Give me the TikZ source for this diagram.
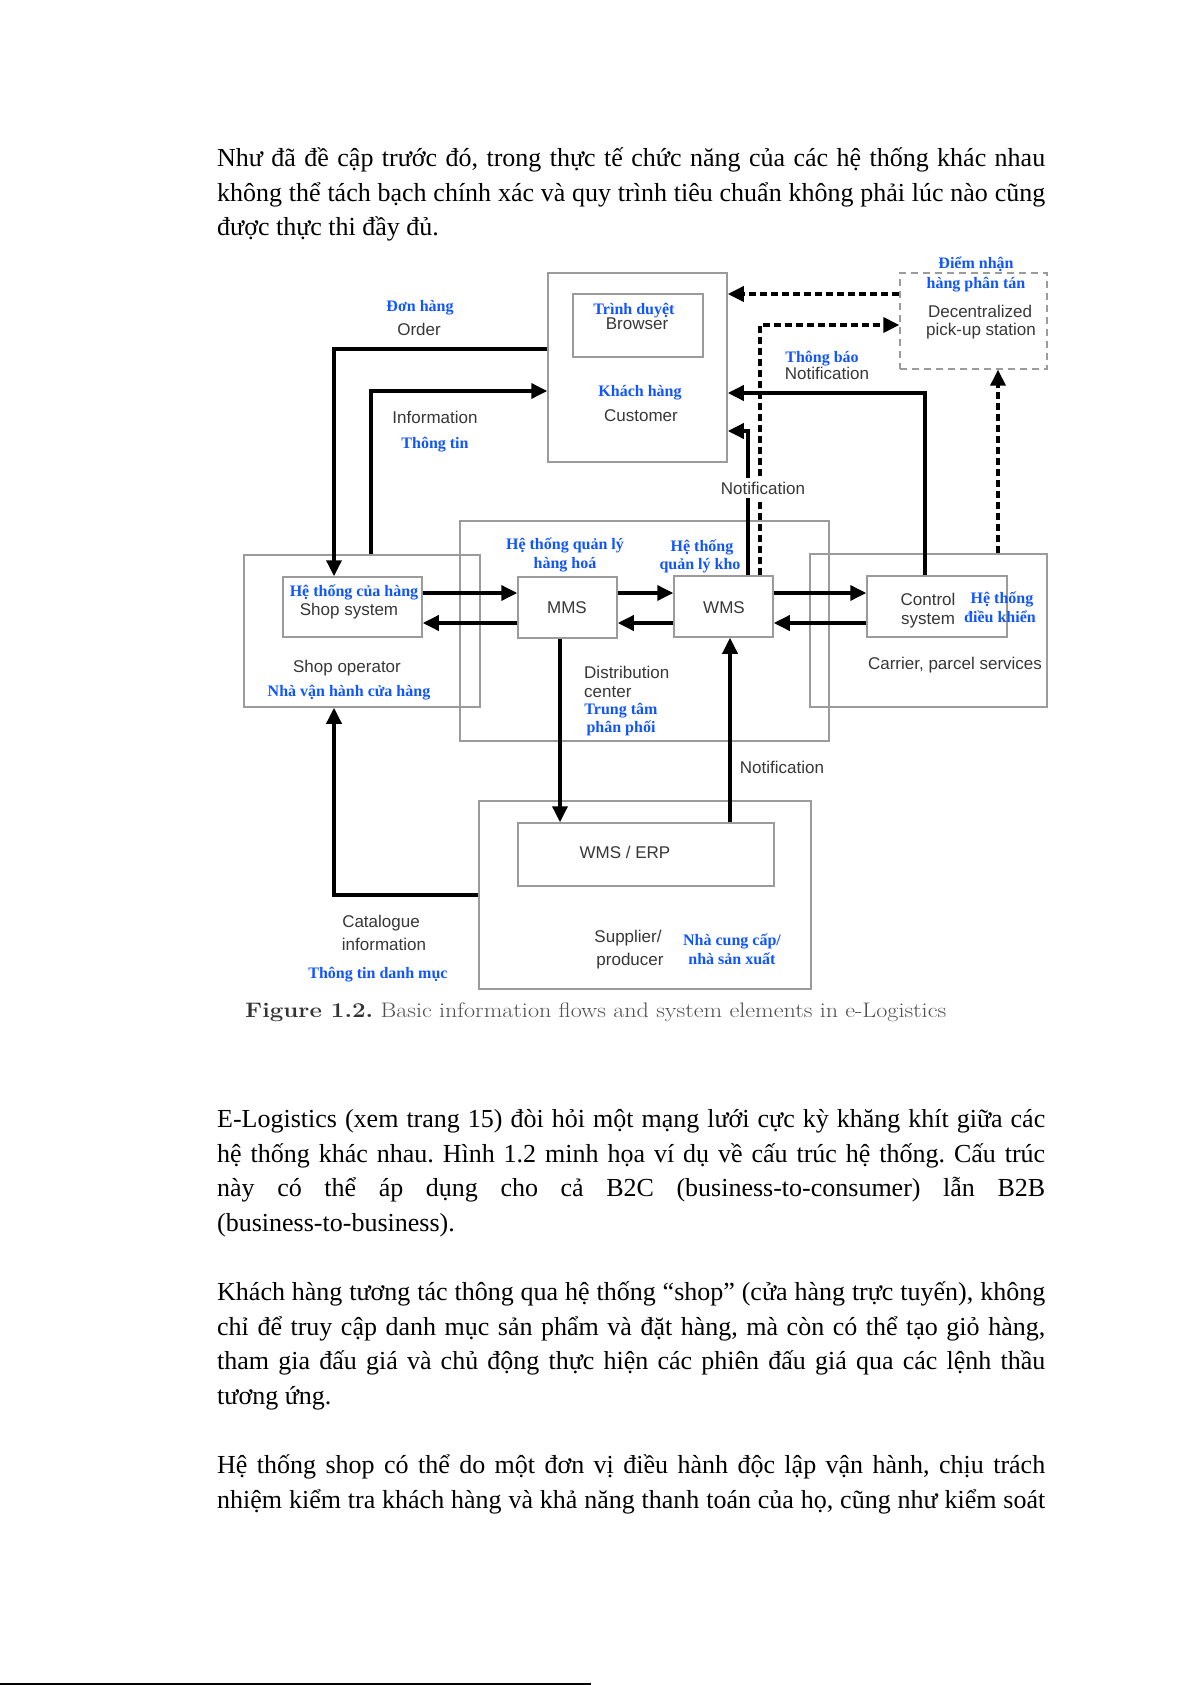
\documentclass[tikz,border=0pt]{standalone}
\usepackage{fontspec}
\usetikzlibrary{arrows.meta}
\newfontfamily\tnr{Liberation Serif}
\newfontfamily\arial{Liberation Sans}
\definecolor{vblue}{RGB}{17,85,255}
\definecolor{txtgray}{RGB}{55,55,55}
\definecolor{boxgray}{RGB}{155,155,155}
\definecolor{capgray}{RGB}{80,80,80}
\tikzset{
  box/.style={draw=boxgray, line width=1.5pt, inner sep=0pt},
  dbox/.style={draw=boxgray, line width=1.4pt, inner sep=0pt, dash pattern=on 7pt off 5pt},
  arr/.style={line width=3.5pt, -{Triangle[length=16pt,width=15pt]}},
  darr/.style={arr, dash pattern=on 7pt off 4pt},
  glab/.style={font=\arial\fontsize{17}{19}\selectfont, text=txtgray, inner sep=0pt, anchor=base, yshift=-6pt},
  blab/.style={font=\tnr\bfseries\fontsize{16}{18}\selectfont, text=vblue, inner sep=0pt, anchor=base, yshift=-6pt},
  body/.style={font=\tnr\fontsize{26}{34.7}\selectfont, inner sep=0pt, anchor=base west},
}
\newcommand{\jl}[1]{\makebox[828pt][s]{#1}}
\frenchspacing
\begin{document}
\begin{tikzpicture}[x=1pt,y=-1pt]
\fill[white] (0,0) rectangle (1191,1685);
\useasboundingbox (0,0) rectangle (1191,1685);

% body text
\node[body] (p1a) at (217,167) {\jl{Như đã đề cập trước đó, trong thực tế chức năng của các hệ thống khác nhau}};
\node[body] (p1b) at (217,202) {\jl{không thể tách bạch chính xác và quy trình tiêu chuẩn không phải lúc nào cũng}};
\node[body] (p1c) at (217,236) {được thực thi đầy đủ.};

\node[body] (p2a) at (217,1127) {\jl{E-Logistics (xem trang 15) đòi hỏi một mạng lưới cực kỳ khăng khít giữa các}};
\node[body] (p2b) at (217,1162) {\jl{hệ thống khác nhau. Hình 1.2 minh họa ví dụ về cấu trúc hệ thống. Cấu trúc}};
\node[body] (p2c) at (217,1196) {\jl{này có thể áp dụng cho cả B2C (business-to-consumer) lẫn B2B}};
\node[body] (p2d) at (217,1231) {(business-to-business).};

\node[body] (p3a) at (217,1300) {\jl{Khách hàng tương tác thông qua hệ thống “shop” (cửa hàng trực tuyến), không}};
\node[body] (p3b) at (217,1335) {\jl{chỉ để truy cập danh mục sản phẩm và đặt hàng, mà còn có thể tạo giỏ hàng,}};
\node[body] (p3c) at (217,1369) {\jl{tham gia đấu giá và chủ động thực hiện các phiên đấu giá qua các lệnh thầu}};
\node[body] (p3d) at (217,1404) {tương ứng.};

\node[body] (p4a) at (217,1473) {\jl{Hệ thống shop có thể do một đơn vị điều hành độc lập vận hành, chịu trách}};
\node[body] (p4b) at (217,1508) {\jl{nhiệm kiểm tra khách hàng và khả năng thanh toán của họ, cũng như kiểm soát}};

% caption
\node[inner sep=0pt, anchor=base west, text=capgray, font=\rmfamily\fontsize{21}{23}\selectfont] (cap) at (245,1017) {\resizebox{701pt}{\height}{\textbf{\color{black!80}Figure 1.2.} Basic information flows and system elements in e-Logistics}};

% boxes
\node[box, minimum width=179pt, minimum height=189pt] (cust) at (637.5,367.5) {};
\node[box, minimum width=130pt, minimum height=63pt] (brow) at (638,325.5) {};
\node[dbox, minimum width=147pt, minimum height=96pt] (pick) at (973.5,321) {};
\node[box, minimum width=236pt, minimum height=152pt] (shopop) at (362,631) {};
\node[box, minimum width=139pt, minimum height=60pt] (shopsys) at (352.5,607) {};
\node[box, minimum width=369pt, minimum height=220pt] (dist) at (644.5,631) {};
\node[box, minimum width=99pt, minimum height=61pt] (mms) at (567.5,607.5) {};
\node[box, minimum width=99pt, minimum height=61pt] (wms) at (723.5,606.5) {};
\node[box, minimum width=237pt, minimum height=153pt] (carrier) at (928.5,630.5) {};
\node[box, minimum width=140pt, minimum height=61pt] (ctrl) at (937,606.5) {};
\node[box, minimum width=332pt, minimum height=188pt] (supp) at (645,895) {};
\node[box, minimum width=256pt, minimum height=63pt] (erp) at (646,854.5) {};

% connectors
\draw[arr] (cust.west |- 0,349) -| (shopsys.north -| 334,0);
\draw[arr] (shopop.north -| 371,0) |- (cust.west |- 0,391);
\draw[arr] (ctrl.north -| 925,0) |- (cust.east |- 0,393);
\draw[arr] (wms.north -| 748,0) |- (cust.east |- 0,431);
\draw[darr] (wms.north -| 760,0) |- (pick.west |- 0,325);
\draw[darr] (pick.west |- 0,294) -- (cust.east |- 0,294);
\draw[darr] (carrier.north -| 998,0) -- (pick.south -| 998,0);
\draw[arr] (shopsys.east |- 0,593) -- (mms.west |- 0,593);
\draw[arr] (mms.west |- 0,623) -- (shopsys.east |- 0,623);
\draw[arr] (mms.east |- 0,593) -- (wms.west |- 0,593);
\draw[arr] (wms.west |- 0,623) -- (mms.east |- 0,623);
\draw[arr] (wms.east |- 0,593) -- (ctrl.west |- 0,593);
\draw[arr] (ctrl.west |- 0,623) -- (wms.east |- 0,623);
\draw[arr] (mms.south -| 560,0) -- (erp.north -| 560,0);
\draw[arr] (erp.north -| 730,0) -- (wms.south -| 730,0);
\draw[arr] (supp.west |- 0,895) -| (shopop.south -| 334,0);

% gray labels
\node[glab] (lorder) at (419,329) {Order};
\node[glab] (linfo) at (435,417) {Information};
\node[glab] (lbrow) at (637,324) {Browser};
\node[glab] (lcust) at (641,415) {Customer};
\node[glab] (ldec) at (980,311) {Decentralized};
\node[glab] (lpick) at (981,329) {pick-up station};
\node[glab] (lnot1) at (827,373) {Notification};
\node[glab, fill=white, inner ysep=4pt, inner xsep=1pt] (lnot2) at (763,488) {Notification};
\node[glab] (lshops) at (349,609) {Shop system};
\node[glab] (lshopo) at (347,666) {Shop operator};
\node[glab] (lmms) at (567,607) {MMS};
\node[glab] (lwms) at (724,607) {WMS};
\node[glab, anchor=base west] (ldist1) at (584,672) {Distribution};
\node[glab, anchor=base west] (ldist2) at (584,691) {center};
\node[glab] (lctrl1) at (928,599) {Control};
\node[glab] (lctrl2) at (928,618) {system};
\node[glab] (lcarr) at (955,663) {Carrier, parcel services};
\node[glab] (lnot3) at (782,767) {Notification};
\node[glab] (lerp) at (625,852) {WMS / ERP};
\node[glab] (lcat1) at (381,921) {Catalogue};
\node[glab] (lcat2) at (384,944) {information};
\node[glab] (lsup1) at (628,936) {Supplier/};
\node[glab] (lsup2) at (630,959) {producer};

% blue labels
\node[blab] (bdon) at (420,306) {Đơn hàng};
\node[blab] (bthong) at (435,442) {Thông tin};
\node[blab] (btrinh) at (634,309) {Trình duyệt};
\node[blab] (bkhach) at (640,390) {Khách hàng};
\node[blab] (bdiem) at (976,263) {Điểm nhận};
\node[blab] (bhang) at (976,283) {hàng phân tán};
\node[blab] (bbao) at (822,356) {Thông báo};
\node[blab] (bhtql) at (565,543) {Hệ thống quản lý};
\node[blab] (bhh) at (565,562) {hàng hoá};
\node[blab] (bhtk) at (702,545) {Hệ thống};
\node[blab] (bqlk) at (700,563) {quản lý kho};
\node[blab] (bhtch) at (354,590) {Hệ thống của hàng};
\node[blab] (bnvh) at (349,690) {Nhà vận hành cửa hàng};
\node[blab] (btt) at (621,708) {Trung tâm};
\node[blab] (bpp) at (621,726) {phân phối};
\node[blab] (bhtdk) at (1002,597) {Hệ thống};
\node[blab] (bdk) at (1000,616) {điều khiển};
\node[blab] (bttdm) at (378,972) {Thông tin danh mục};
\node[blab] (bncc) at (732,939) {Nhà cung cấp/};
\node[blab] (bnsx) at (732,958) {nhà sản xuất};

% scan edge at the bottom
\coordinate (edgeL) at (0,1683.5);
\coordinate (edgeR) at (591,1683.5);
\draw[line width=2pt] (edgeL) -- (edgeR);
\end{tikzpicture}
\end{document}
